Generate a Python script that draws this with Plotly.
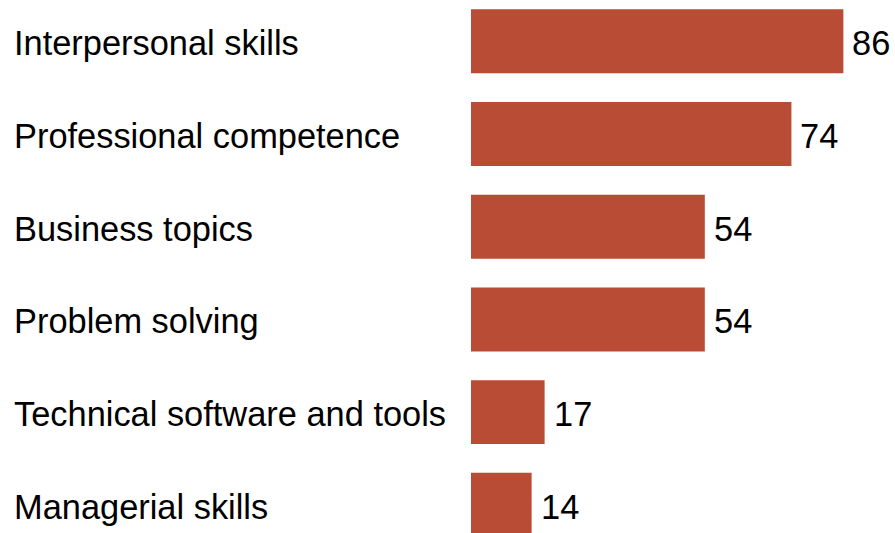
import plotly.graph_objects as go

categories = ["Interpersonal skills", "Professional competence", "Business topics",
              "Problem solving", "Technical software and tools", "Managerial skills"]
values = [86, 74, 54, 54, 17, 14]

W, H = 895, 533
bar_color = "#B84C35"
font_family = "Liberation Sans, Arial, sans-serif"
fs = 34.4

fig = go.Figure(go.Bar(
    x=values, y=categories, orientation="h",
    marker=dict(color=bar_color, line=dict(width=0)),
    width=0.69, hoverinfo="skip",
))

annotations = []
for c, v in zip(categories, values):
    annotations.append(dict(x=v, y=c, xref="x", yref="y", text=str(v),
                            showarrow=False, xanchor="left", yanchor="middle",
                            xshift=7, yshift=-2,
                            font=dict(size=fs, color="#000", family=font_family)))
    annotations.append(dict(x=15 / W, y=c, xref="paper", yref="y", text=c,
                            showarrow=False, xanchor="left", yanchor="middle",
                            xshift=-3, yshift=-2,
                            font=dict(size=fs, color="#000", family=font_family)))

fig.update_layout(
    width=W, height=H,
    margin=dict(l=0, r=0, t=0, b=0),
    paper_bgcolor="white", plot_bgcolor="white",
    showlegend=False,
    annotations=annotations,
    xaxis=dict(domain=[471 / W, 1], range=[0, (W - 471) / 4.33],
               visible=False, fixedrange=True),
    yaxis=dict(type="category", categoryorder="array", categoryarray=categories,
               range=[5.304, -0.4455], visible=False, fixedrange=True),
)

fig.write_html("out.html")
